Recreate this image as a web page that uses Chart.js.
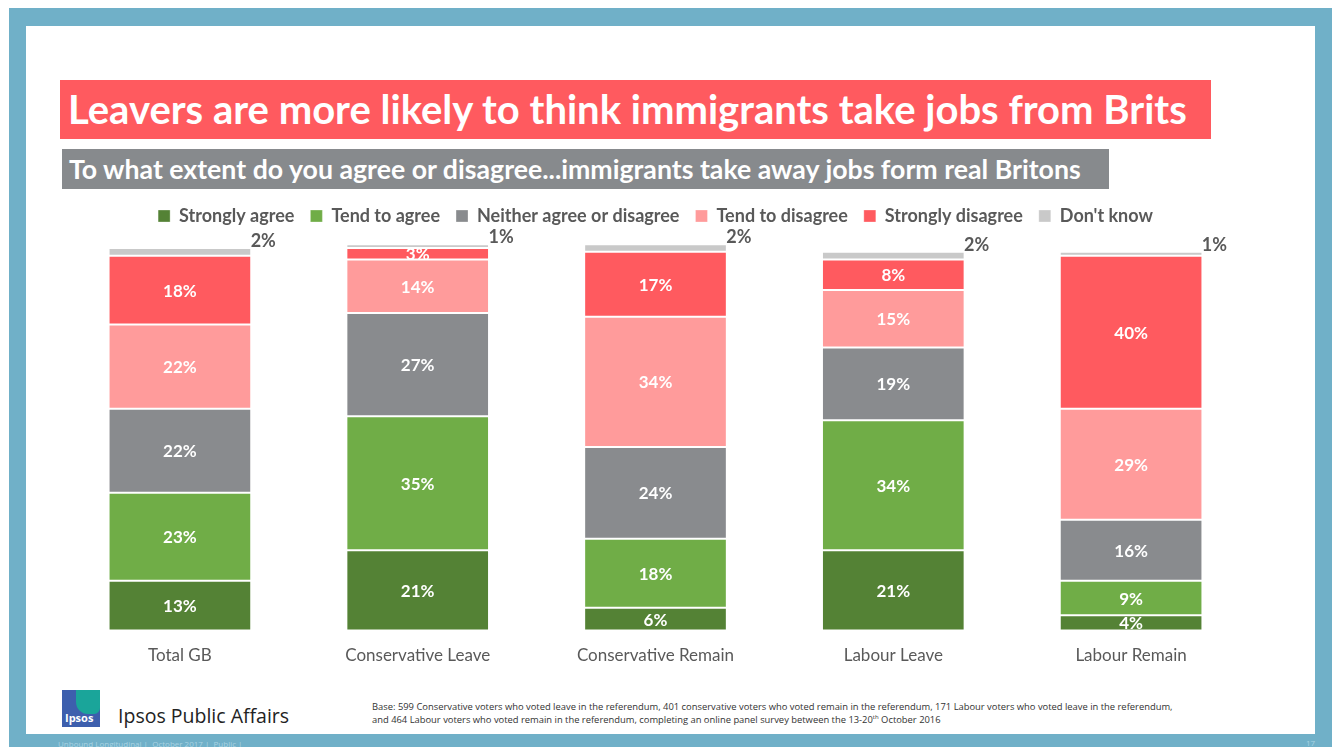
<!DOCTYPE html>
<html>
<head>
<meta charset="utf-8">
<script src="https://cdn.jsdelivr.net/npm/chart.js@4/dist/chart.umd.min.js"></script>
<style>
  body { margin: 0; background: #fff; }
  #page { position: relative; width: 1332px; height: 747px; overflow: hidden; font-family: Lato, "Open Sans", sans-serif; }
  #frame { position: absolute; left: 9px; top: 8px; width: 1323px; height: 739px; background: #70b0c8; }
  #card { position: absolute; left: 26px; top: 26px; width: 1289px; height: 708px; background: #fff; }
  #title { position: absolute; left: 60px; top: 80px; width: 1151px; height: 59px; background: #ff5a5f; color: #fff;
           font-weight: bold; font-size: 40px; line-height: 59px; padding-left: 8px; box-sizing: border-box; white-space: nowrap; }
  #subtitle { position: absolute; left: 62px; top: 149px; width: 1047px; height: 40px; background: #878a8d; color: #fff;
              font-weight: bold; font-size: 26.7px; line-height: 40px; padding-left: 7px; box-sizing: border-box; white-space: nowrap; }
  #chartBox { position: absolute; left: 61px; top: 191px; width: 1189px; height: 482px; }
  #logo { position: absolute; left: 62px; top: 690px; width: 38px; height: 37px; background: #3d5fad; overflow: hidden; }
  #logo .shape { position: absolute; left: 14px; top: 0; width: 24px; height: 24px; background: #1aa59a; border-radius: 0 0 6px 12px; }
  #logo span { position: absolute; left: 3px; bottom: 2px; color: #fff; font: bold 11px "Open Sans", sans-serif; }
  #brand { position: absolute; left: 118px; top: 702px; font: 19.5px "Open Sans", sans-serif; color: #222; }
  #base { position: absolute; left: 372px; top: 700px; font: 9.4px "Open Sans", sans-serif; color: #333; line-height: 13px; white-space: nowrap; }
  #base sup { font-size: 6px; line-height: 0; }
  #foot { position: absolute; left: 58px; top: 738px; font: 8px "Open Sans", sans-serif; color: #a9d3e2; }
  #pnum { position: absolute; left: 1306px; top: 737px; font: 8px "Open Sans", sans-serif; color: #a9d3e2; }
</style>
</head>
<body>
<div id="page">
  <div id="frame"></div>
  <div id="card"></div>
  <div id="title">Leavers are more likely to think immigrants take jobs from Brits</div>
  <div id="subtitle">To what extent do you agree or disagree...immigrants take away jobs form real Britons</div>
  <div id="chartBox"><canvas id="chart"></canvas></div>
  <div id="logo"><div class="shape"></div><span>Ipsos</span></div>
  <div id="brand">Ipsos Public Affairs</div>
  <div id="base">Base: 599 Conservative voters who voted leave in the referendum, 401 conservative voters who voted remain in the referendum, 171 Labour voters who voted leave in the referendum,<br>and 464 Labour voters who voted remain in the referendum, completing an online panel survey between the 13-20<sup>th</sup> October 2016</div>
  <div id="foot">Unbound Longitudinal |&nbsp; October 2017 |&nbsp; Public |</div>
  <div id="pnum">17</div>
</div>
<script>
const groups = ['Total GB', 'Conservative Leave', 'Conservative Remain', 'Labour Leave', 'Labour Remain'];
const answers = ['Strongly agree', 'Tend to agree', 'Neither agree or disagree', 'Tend to disagree', 'Strongly disagree', "Don't know"];
const stronglyAgree = [13, 21, 6, 21, 4];
const tendAgree = [23, 35, 18, 34, 9];
const neither = [22, 27, 24, 19, 16];
const tendDisagree = [22, 14, 34, 15, 29];
const stronglyDisagree = [18, 3, 17, 8, 40];
const dontKnow = [2, 1, 2, 2, 1];
const colours = ['#548235', '#70ad47', '#898b8e', '#ff9b9b', '#ff5a5f', '#c9c9c9'];

const series = [stronglyAgree, tendAgree, neither, tendDisagree, stronglyDisagree, dontKnow];

// extra room between the legend and the bars
const legendGap = {
    id: 'legendGap',
    beforeInit(chart) {
        const fit = chart.legend.fit;
        chart.legend.fit = function () {
            fit.bind(chart.legend)();
            this.height += 13;
        };
    }
};

// value labels: white inside the segments, grey beside the top for "don't know"
const segmentLabels = {
    id: 'segmentLabels',
    afterDatasetsDraw(chart) {
        const ctx = chart.ctx;
        ctx.save();
        ctx.textAlign = 'center';
        ctx.textBaseline = 'middle';
        chart.data.datasets.forEach((ds, i) => {
            const meta = chart.getDatasetMeta(i);
            meta.data.forEach((bar, j) => {
                const txt = ds.data[j] + '%';
                if (i === series.length - 1) {
                    ctx.fillStyle = '#595959';
                    ctx.font = 'bold 18px Lato, sans-serif';
                    ctx.fillText(txt, bar.x + bar.width / 2 + 12, bar.y - 7);
                } else {
                    ctx.fillStyle = '#fff';
                    ctx.font = 'bold 17px Lato, sans-serif';
                    ctx.fillText(txt, bar.x, (bar.y + bar.base) / 2 + 1);
                }
            });
        });
        ctx.restore();
    }
};

new Chart(document.getElementById('chart'), {
    type: 'bar',
    data: {
        labels: groups,
        datasets: series.map((vals, i) => ({
            label: answers[i],
            data: vals,
            backgroundColor: colours[i],
            borderColor: 'rgba(255,255,255,0.3)',
            borderWidth: 1,
            borderSkipped: false,
            clip: false,
            categoryPercentage: 1,
            barPercentage: 0.6
        }))
    },
    options: {
        responsive: true,
        maintainAspectRatio: false,
        animation: false,
        layout: { padding: 0 },
        scales: {
            x: {
                stacked: true,
                grid: { display: false },
                border: { display: false },
                ticks: { color: '#595959', font: { family: 'Lato', size: 17 }, padding: 7 }
            },
            y: {
                stacked: true,
                display: false,
                min: 0,
                max: 100
            }
        },
        plugins: {
            tooltip: { enabled: false },
            legend: {
                position: 'top',
                labels: {
                    color: '#595959',
                    font: { family: 'Lato', size: 18, weight: 'bold' },
                    boxWidth: 12,
                    boxHeight: 12,
                    padding: 16
                }
            }
        }
    },
    plugins: [legendGap, segmentLabels]
});
</script>
</body>
</html>
